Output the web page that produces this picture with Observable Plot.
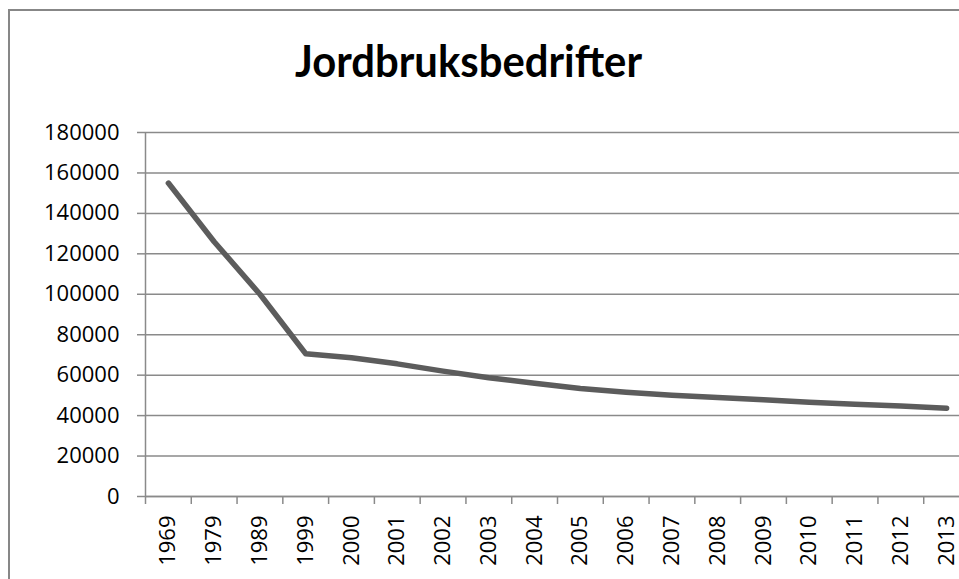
<!DOCTYPE html>
<html><head><meta charset="utf-8">
<script src="https://cdn.jsdelivr.net/npm/d3@7"></script>
<script src="https://cdn.jsdelivr.net/npm/@observablehq/plot@0.6"></script>
<style>
html,body{margin:0;padding:0;width:959px;height:579px;overflow:hidden;background:#fff;}
#frame{position:absolute;left:8px;top:9px;width:1100px;height:1100px;border:2px solid #878787;box-sizing:border-box;}
#title{position:absolute;top:0;left:0;white-space:nowrap;font:700 44px Lato,"Open Sans",sans-serif;line-height:1;color:#000;transform-origin:0 0;}
#chart{position:absolute;left:0;top:0;}
</style></head><body>
<div id="frame"></div>
<div id="chart"></div>
<div id="title">Jordbruksbedrifter</div>
<script>
const years = ["1969","1979","1989","1999","2000","2001","2002","2003","2004","2005","2006","2007","2008","2009","2010","2011","2012","2013"];
const farms = [155000,126000,100000,70600,68600,65600,62000,58700,56000,53400,51600,50100,49000,47800,46600,45600,44800,43700];
const yTicks = [0,20000,40000,60000,80000,100000,120000,140000,160000,180000];

const data = years.map((year, i) => ({year, farms: farms[i]}));
const marginLeft = 145, plotRight = 969, W = 975;
const step = (plotRight - marginLeft) / years.length;
const gray = "#8a8a8a";

const plot = Plot.plot({
  width: W, height: 579,
  marginTop: 132, marginBottom: 83, marginLeft, marginRight: W - plotRight,
  style: {background: "transparent", maxWidth: "none", fontFamily: "'Open Sans', sans-serif", fontSize: "22px", color: "#000", overflow: "visible"},
  x: {type: "point", domain: years, padding: 0.5, round: false, label: null, axis: null},
  y: {domain: [0, 180000], label: null, axis: null},
  marks: [
    Plot.gridY(yTicks, {stroke: gray, strokeOpacity: 1, strokeWidth: 1.5}),
    Plot.ruleY([0], {stroke: gray, strokeWidth: 1.5}),
    Plot.ruleX([years[0]], {dx: -step / 2, stroke: gray, strokeWidth: 1.5}),
    Plot.axisY(yTicks, {tickSize: 8, tickPadding: 18, tickFormat: d => String(d), stroke: gray, strokeWidth: 1.5, strokeOpacity: 1, fill: "#000", fontSize: 22, label: null}),
    Plot.axisX(years, {tickSize: 8, dx: -step / 2, stroke: gray, strokeWidth: 1.5, strokeOpacity: 1, fill: null, label: null}),
    Plot.axisX(years, {tickSize: 0, tickPadding: 19, tickRotate: -90, fill: "#000", fontSize: 22, label: null}),
    Plot.lineY(data, {x: "year", y: "farms", stroke: "#5c5c5c", strokeWidth: 5.5, strokeLinecap: "round", strokeLinejoin: "round"})
  ]
});
document.getElementById("chart").appendChild(plot);

const t = document.getElementById("title");
const w = t.getBoundingClientRect().width;
const targetW = 347;
t.style.transform = `scaleX(${targetW / w})`;
t.style.left = (468.5 - targetW / 2) + "px";
t.style.top = "38px";
</script>
</body></html>
